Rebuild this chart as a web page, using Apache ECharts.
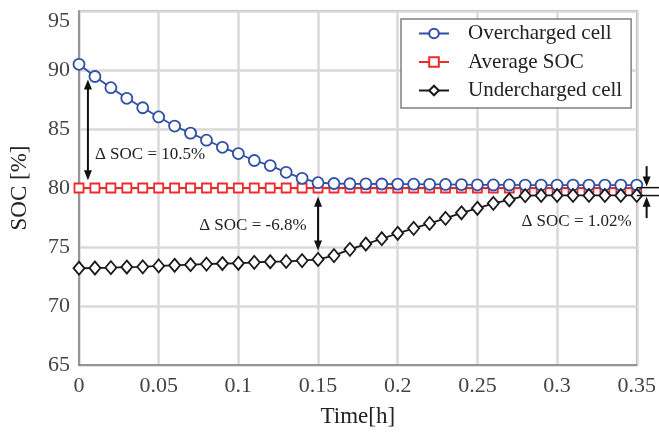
<!DOCTYPE html>
<html>
<head>
<meta charset="utf-8">
<script src="https://cdn.jsdelivr.net/npm/echarts@6/dist/echarts.min.js"></script>
<style>
  html, body { margin: 0; padding: 0; background: #fff; }
  #main { width: 659px; height: 433px; }
</style>
</head>
<body>
<div id="main"></div>
<script>
// 时间轴 (h)
const timeH = [0, 0.01, 0.02, 0.03, 0.04, 0.05, 0.06, 0.07, 0.08, 0.09,
  0.10, 0.11, 0.12, 0.13, 0.14, 0.15, 0.16, 0.17, 0.18, 0.19,
  0.20, 0.21, 0.22, 0.23, 0.24, 0.25, 0.26, 0.27, 0.28, 0.29,
  0.30, 0.31, 0.32, 0.33, 0.34, 0.35];
// 过充电池 SOC
const overcharged = [90.48, 89.45, 88.5, 87.6, 86.8, 86.02, 85.25, 84.65, 84.05, 83.45,
  82.92, 82.33, 81.9, 81.33, 80.82, 80.45, 80.38, 80.36, 80.35, 80.34,
  80.33, 80.32, 80.31, 80.3, 80.29, 80.27, 80.26, 80.26, 80.25, 80.25,
  80.25, 80.25, 80.25, 80.25, 80.25, 80.25];
// 平均 SOC
const averageSoc = [80, 80, 80, 80, 80, 80, 80, 80, 80, 80,
  80, 80, 80, 80, 80, 80, 80, 80, 80, 80,
  80, 80, 80, 80, 80, 80, 80, 80, 80, 80,
  80, 80, 80, 80, 80, 80];
// 欠充电池 SOC
const undercharged = [73.2, 73.22, 73.25, 73.3, 73.32, 73.4, 73.45, 73.5, 73.55, 73.6,
  73.62, 73.7, 73.75, 73.78, 73.85, 73.95, 74.27, 74.8, 75.25, 75.7,
  76.16, 76.58, 77.0, 77.43, 77.9, 78.28, 78.7, 79.0, 79.35, 79.37,
  79.37, 79.37, 79.37, 79.37, 79.37, 79.37];
const xTicks = ['0', '0.05', '0.1', '0.15', '0.2', '0.25', '0.3', '0.35'];

const font = 'Liberation Serif';
const pairs = (ys) => timeH.map((t, i) => [t, ys[i]]);

const myChart = echarts.init(document.getElementById('main'));

const option = {
  animation: false,
  backgroundColor: '#fff',
  grid: { left: 79, right: 18, top: 11, bottom: 68, show: true, borderColor: '#808080', borderWidth: 1.5 },
  legend: {
    orient: 'vertical',
    left: 401, top: 19,
    padding: [4, 9, 7, 17],
    itemGap: 7.5,
    itemWidth: 30, itemHeight: 12,
    backgroundColor: '#fff',
    borderColor: '#808080', borderWidth: 1.5, borderRadius: 0,
    textStyle: { fontFamily: font, fontSize: 21, color: '#222', padding: [0, 0, 0, 14] }
  },
  xAxis: {
    type: 'value', min: 0, max: 0.35, interval: 0.05,
    name: 'Time[h]', nameLocation: 'middle', nameGap: 40,
    nameTextStyle: { fontFamily: font, fontSize: 23, color: '#222' },
    axisLine: { lineStyle: { color: '#808080', width: 1.5 } },
    axisTick: { show: false },
    axisLabel: { fontFamily: font, fontSize: 22, color: '#444', margin: 10,
      formatter: (v) => xTicks[Math.round(v / 0.05)] },
    splitLine: { lineStyle: { color: '#d9d9d9', width: 2.5 } }
  },
  yAxis: {
    type: 'value', min: 65, max: 95, interval: 5,
    name: 'SOC [%]', nameLocation: 'middle', nameGap: 48,
    nameTextStyle: { fontFamily: font, fontSize: 23, color: '#222' },
    axisLine: { lineStyle: { color: '#808080', width: 1.5 } },
    axisTick: { show: false },
    axisLabel: { fontFamily: font, fontSize: 22, color: '#444', margin: 9,
      formatter: (v) => (v === 95 ? '{top|95}' : String(v)),
      rich: { top: { fontFamily: font, fontSize: 22, color: '#444', padding: [20, 0, 0, 0] } } },
    splitLine: { lineStyle: { color: '#d9d9d9', width: 2.5 } }
  },
  series: [
    {
      name: 'Overcharged cell', type: 'line', data: pairs(overcharged), z: 4,
      symbol: 'circle', symbolSize: 11, showAllSymbol: true,
      lineStyle: { color: '#2f4fa6', width: 1.8 },
      itemStyle: { color: '#fff', borderColor: '#2f4fa6', borderWidth: 1.8 }
    },
    {
      name: 'Average SOC', type: 'line', data: pairs(averageSoc), z: 3,
      symbol: 'rect', symbolSize: 9, showAllSymbol: true,
      lineStyle: { color: '#ee2a2a', width: 1.8 },
      itemStyle: { color: '#fff', borderColor: '#ee2a2a', borderWidth: 1.8 }
    },
    {
      name: 'Undercharged cell', type: 'line', data: pairs(undercharged), z: 5,
      symbol: 'diamond', symbolSize: [11, 13], showAllSymbol: true,
      lineStyle: { color: '#1a1a1a', width: 1.8 },
      itemStyle: { color: '#fff', borderColor: '#1a1a1a', borderWidth: 1.8 }
    }
  ]
};

myChart.setOption(option);

// 标注 (箭头 + 文字)
const px = (x, y) => myChart.convertToPixel({ gridIndex: 0 }, [x, y]);
function arrow(p1, p2, both) {
  const els = [];
  const dx = p2[0] - p1[0], dy = p2[1] - p1[1];
  const len = Math.sqrt(dx * dx + dy * dy), ux = dx / len, uy = dy / len;
  const head = (tip, sx, sy) => ({
    type: 'polygon',
    shape: { points: [tip, [tip[0] - sx * 10 - sy * 4, tip[1] - sy * 10 + sx * 4], [tip[0] - sx * 10 + sy * 4, tip[1] - sy * 10 - sx * 4]] },
    style: { fill: '#111' }, z: 100
  });
  els.push({ type: 'line', shape: { x1: p1[0] + (both ? ux * 6 : 0), y1: p1[1] + (both ? uy * 6 : 0), x2: p2[0] - ux * 6, y2: p2[1] - uy * 6 },
    style: { stroke: '#111', lineWidth: 2 }, z: 100 });
  els.push(head(p2, ux, uy));
  if (both) els.push(head(p1, -ux, -uy));
  return els;
}
function label(text, p, align) {
  return { type: 'text', x: p[0], y: p[1], z: 100,
    style: { text: text, fill: '#222', fontFamily: font, fontSize: 17, align: align, verticalAlign: 'middle' } };
}

const g = []
  .concat(arrow(px(0.0056, 89.2), px(0.0056, 80.65), true))
  .concat(arrow(px(0.15, 79.25), px(0.15, 74.7), true))
  .concat(arrow(px(0.3562, 77.45), px(0.3562, 79.25), false))
  .concat(arrow(px(0.3562, 81.85), px(0.3562, 80.12), false));
const e1 = px(0.35, 80.03), e3 = px(0.35, 79.36);
g.push({ type: 'line', shape: { x1: e1[0], y1: e1[1], x2: 659, y2: e1[1] }, style: { stroke: '#111', lineWidth: 1.5 }, z: 100 });
g.push({ type: 'line', shape: { x1: e3[0], y1: e3[1], x2: 659, y2: e3[1] }, style: { stroke: '#111', lineWidth: 1.5 }, z: 100 });
g.push(label('\u0394 SOC = 10.5%', px(0.01, 82.8), 'left'));
g.push(label('\u0394 SOC = -6.8%', px(0.1428, 76.86), 'right'));
g.push(label('\u0394 SOC = 1.02%', px(0.3468, 77.2), 'right'));

myChart.setOption({ graphic: g });
</script>
</body>
</html>
